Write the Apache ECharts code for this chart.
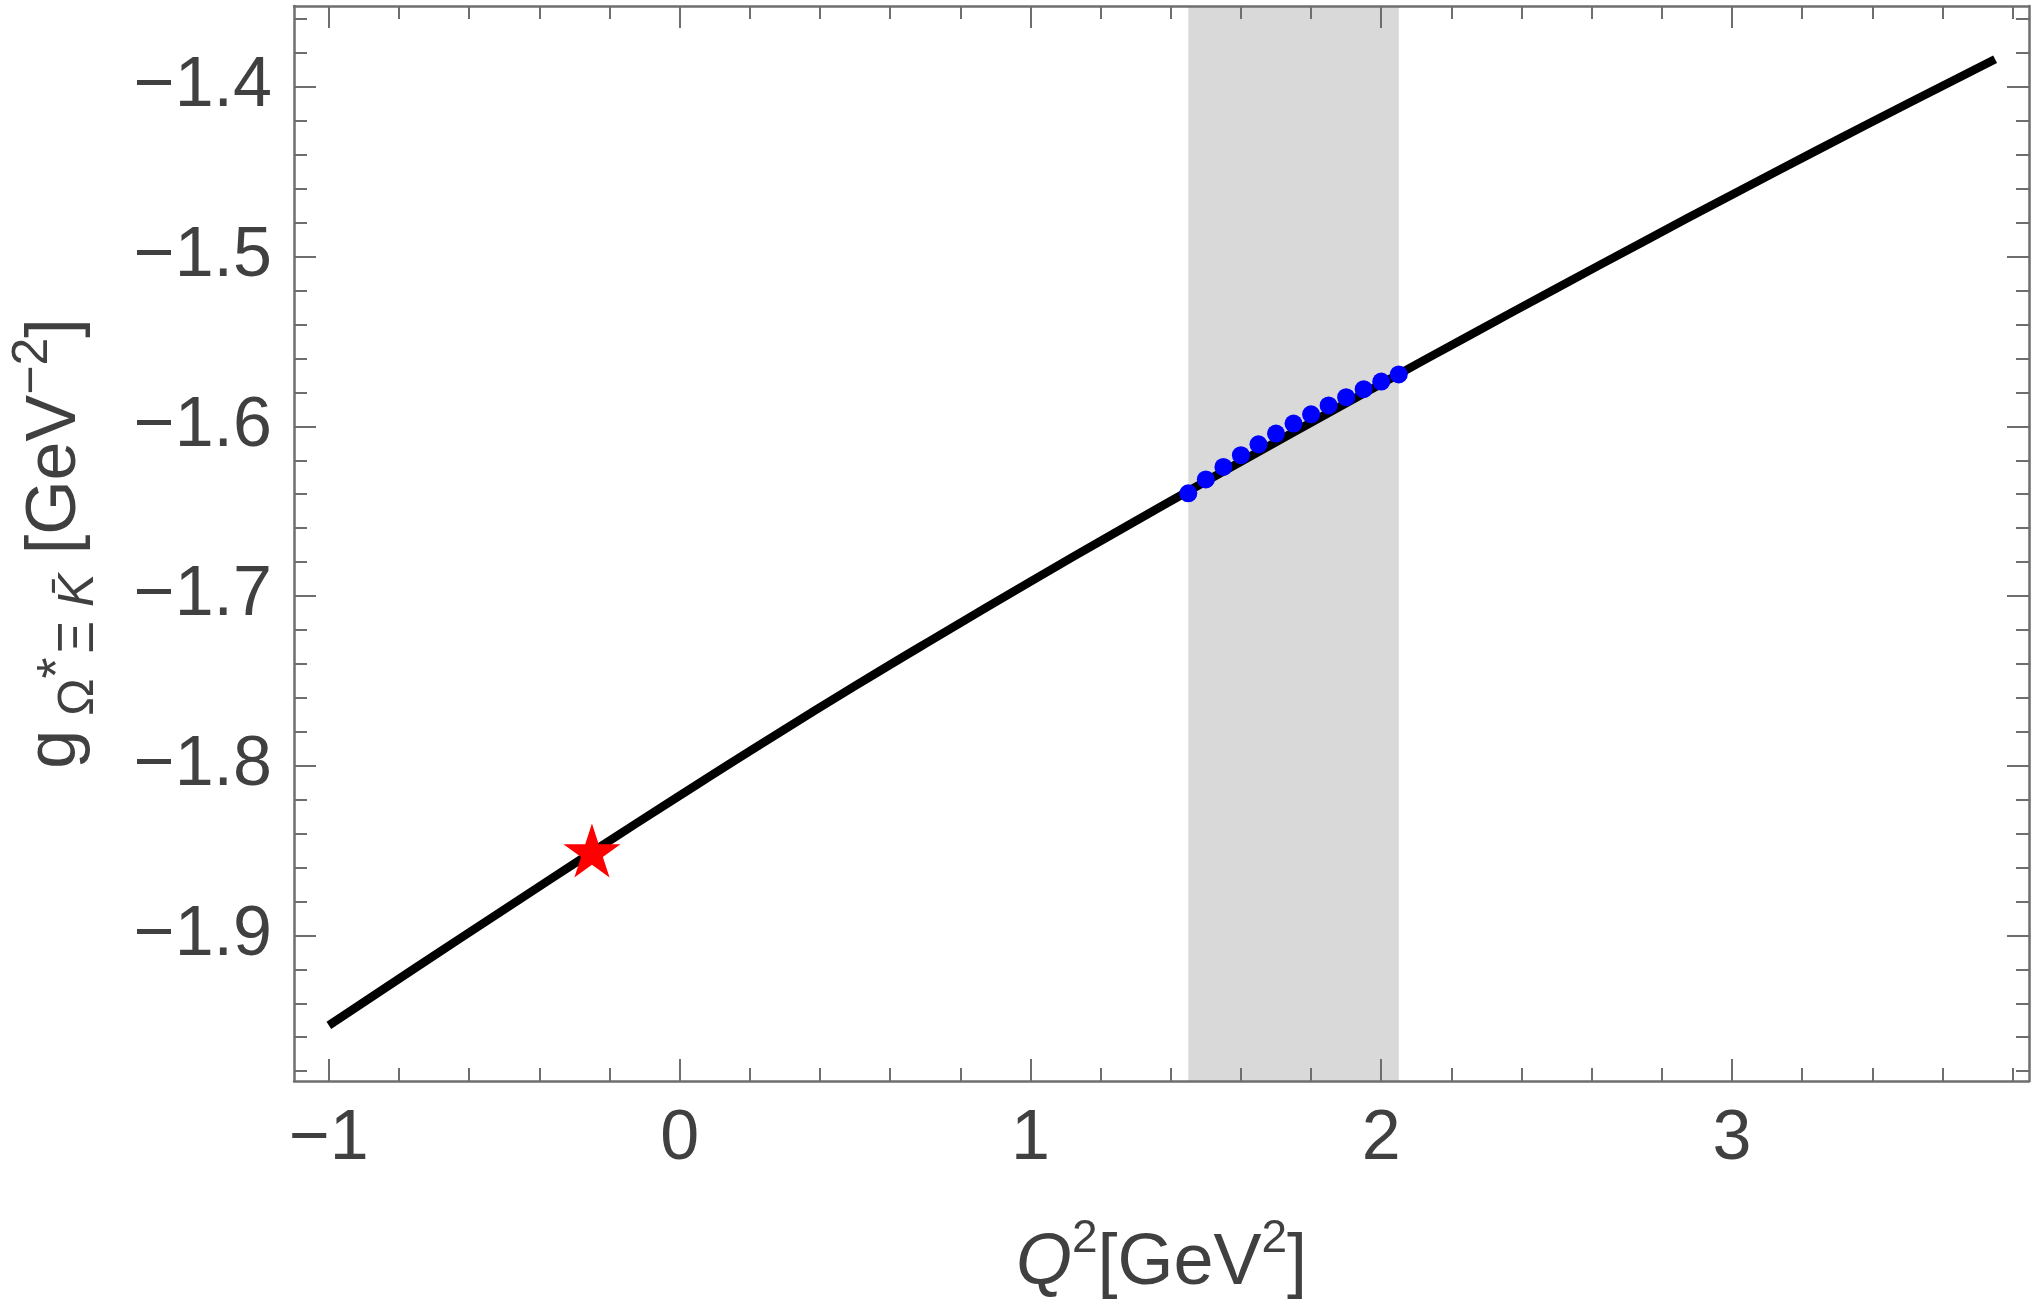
<!DOCTYPE html>
<html>
<head>
<meta charset="utf-8">
<title>g coupling vs Q2</title>
<script src="https://cdn.jsdelivr.net/npm/echarts@6/dist/echarts.min.js"></script>
<style>
  html, body { margin: 0; padding: 0; background: #fff; }
  #main { width: 2042px; height: 1305px; }
</style>
</head>
<body>
<div id="main"></div>
<script>
// curve
var qCurve = [-1.00, -0.75, -0.50, -0.25, 0.00, 0.25, 0.50, 0.75, 1.00, 1.25,
              1.50, 1.75, 2.00, 2.25, 2.50, 2.75, 3.00, 3.25, 3.50, 3.75];
var gCurve = [-1.9530, -1.9187, -1.8847, -1.8509, -1.8176, -1.7849, -1.7530, -1.7220, -1.6915, -1.6617,
              -1.6324, -1.6035, -1.5749, -1.5466, -1.5186, -1.4909, -1.4635, -1.4365, -1.4099, -1.3837];

// blue points inside the grey band
var qPoints = [1.45, 1.50, 1.55, 1.60, 1.65, 1.70, 1.75, 1.80, 1.85, 1.90, 1.95, 2.00, 2.05];
var gPoints = [-1.6395, -1.6313, -1.6239, -1.6170, -1.6106, -1.6043, -1.5984,
               -1.5929, -1.5877, -1.5828, -1.5781, -1.5736, -1.5694];

// red star
var qStar = [-0.25];
var gStar = [-1.850];

// shaded region
var bandRange = [1.45, 2.05];

// ticks
var xMajor = [-1, 0, 1, 2, 3];
var yMajor = [-1.9, -1.8, -1.7, -1.6, -1.5, -1.4];

var xRange = [-1.0994, 3.8466];
var yRange = [-1.9858, -1.3523];

function minors(from, to, step, majors) {
	var out = [];
	for (var i = 0; from + i * step <= to + 1e-9; i++) {
		var v = +(from + i * step).toFixed(3);
		var isMajor = majors.some(function (m) { return Math.abs(m - v) < 1e-6; });
		if (!isMajor) out.push(v);
	}
	return out;
}
var xMinor = minors(-1.0, 3.8, 0.2, xMajor);
var yMinor = minors(-1.98, -1.36, 0.02, yMajor);

var frameColor = '#6e6e6e';
var textColor = '#404040';
var font = 'Liberation Sans';

function fmt(v) {
	var s = Math.abs(v) < 1e-9 ? '0' : (Number.isInteger(v) ? String(Math.abs(v)) : Math.abs(v).toFixed(1));
	return v < -1e-9 ? '\u2212' + s : s;
}

function axis(position, ticks, len, withLabels, withLine) {
	var isX = position === 'bottom' || position === 'top';
	return {
		type: 'value',
		position: position,
		min: isX ? xRange[0] : yRange[0],
		max: isX ? xRange[1] : yRange[1],
		z: 5,
		axisLine: { show: withLine, onZero: false, lineStyle: { color: frameColor, width: 2.5 } },
		axisTick: {
			show: true, inside: true, length: len, customValues: ticks,
			lineStyle: { color: frameColor, width: 2 }
		},
		axisLabel: {
			show: withLabels, customValues: ticks,
			fontFamily: font, fontSize: 70, color: textColor,
			margin: (position === 'bottom') ? 24 : 22,
			formatter: fmt
		},
		splitLine: { show: false },
		minorTick: { show: false }
	};
}

var xAxes = [
	axis('bottom', xMajor, 22, true, true),
	axis('bottom', xMinor, 13, false, false),
	axis('top', xMajor, 22, false, true),
	axis('top', xMinor, 13, false, false)
];
xAxes[0].name = '{it|Q}{sup|2}{n|[GeV}{sup|2}{n|]}';
xAxes[0].nameLocation = 'middle';
xAxes[0].nameGap = 135;
xAxes[0].nameTextStyle = {
	fontFamily: font, color: textColor,
	rich: {
		it: { fontFamily: font, fontSize: 72, fontStyle: 'italic', color: textColor, lineHeight: 84, verticalAlign: 'bottom' },
		n: { fontFamily: font, fontSize: 72, color: textColor, lineHeight: 84, verticalAlign: 'bottom' },
		sup: { fontFamily: font, fontSize: 46, color: textColor, lineHeight: 84, verticalAlign: 'top' }
	}
};

var yAxes = [
	axis('left', yMajor, 22, true, true),
	axis('left', yMinor, 13, false, false),
	axis('right', yMajor, 22, false, true),
	axis('right', yMinor, 13, false, false)
];
yAxes[0].name = '{n|g}{sub| \u03A9}{subsup|*}{sub|\u039E }{subit|K\u0304}{n| [GeV}{sup|\u22122}{n|]}';
yAxes[0].nameLocation = 'middle';
yAxes[0].nameRotate = 90;
yAxes[0].nameGap = 190;
yAxes[0].nameTextStyle = {
	fontFamily: font, color: textColor,
	rich: {
		n: { fontFamily: font, fontSize: 70, color: textColor, lineHeight: 96, verticalAlign: 'middle' },
		sub: { fontFamily: font, fontSize: 50, color: textColor, lineHeight: 96, verticalAlign: 'bottom' },
		subit: { fontFamily: font, fontSize: 50, fontStyle: 'italic', color: textColor, lineHeight: 96, verticalAlign: 'bottom' },
		subsup: { fontFamily: font, fontSize: 54, color: textColor, lineHeight: 96, verticalAlign: 'bottom', padding: [0, 4, 18, 0] },
		sup: { fontFamily: font, fontSize: 50, color: textColor, lineHeight: 96, verticalAlign: 'top' }
	}
};

var starPath = 'path://M0,-1L0.2245,-0.309L0.9511,-0.309L0.3633,0.118L0.5878,0.809L0,0.382L-0.5878,0.809L-0.3633,0.118L-0.9511,-0.309L-0.2245,-0.309Z';

var option = {
	animation: false,
	backgroundColor: '#ffffff',
	grid: { left: 288, right: 13, top: 6, bottom: 222, containLabel: false },
	xAxis: xAxes,
	yAxis: yAxes,
	series: [
		{
			name: 'band',
			type: 'line',
			data: [],
			z: 1,
			silent: true,
			markArea: {
				silent: true,
				itemStyle: { color: '#d9d9d9', opacity: 1 },
				data: [[{ xAxis: bandRange[0] }, { xAxis: bandRange[1] }]]
			}
		},
		{
			name: 'curve',
			type: 'line',
			z: 2,
			showSymbol: false,
			smooth: true,
			lineStyle: { color: '#000000', width: 8.5, cap: 'butt' },
			data: qCurve.map(function (q, i) { return [q, gCurve[i]]; })
		},
		{
			name: 'points',
			type: 'scatter',
			z: 3,
			symbol: 'circle',
			symbolSize: 18,
			itemStyle: { color: '#0000ff', opacity: 1 },
			data: qPoints.map(function (q, i) { return [q, gPoints[i]]; })
		},
		{
			name: 'star',
			type: 'scatter',
			z: 4,
			symbol: starPath,
			symbolSize: [57, 54],
			itemStyle: { color: '#ff0000', opacity: 1 },
			data: qStar.map(function (q, i) { return [q, gStar[i]]; })
		}
	]
};

var chart = echarts.init(document.getElementById('main'));
chart.setOption(option);
</script>
</body>
</html>
